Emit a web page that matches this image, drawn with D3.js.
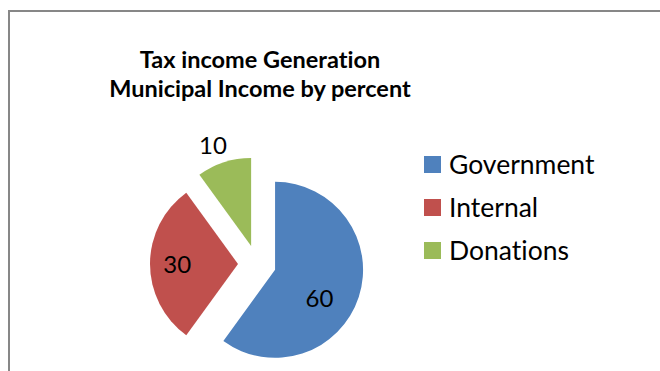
<!DOCTYPE html>
<html>
<head>
<meta charset="utf-8">
<script src="https://cdn.jsdelivr.net/npm/d3@7"></script>
<style>
  body { margin: 0; background: #fff; }
  svg { display: block; font-family: Lato, "Open Sans", sans-serif; font-variant-ligatures: none; }
</style>
</head>
<body>
<div id="chart"></div>
<script>
// data
var categories = ["Government", "Internal", "Donations"];
var values = [60, 30, 10];
var colors = ["#4F81BD", "#C0504D", "#9BBB59"];
var titleLines = ["Tax income Generation", "Municipal Income by percent"];

var W = 660, H = 371;
var svg = d3.select("#chart").append("svg")
    .attr("width", W)
    .attr("height", H);

// chart frame (runs off the right and bottom of the picture)
svg.append("path")
    .attr("d", "M9," + H + " V11 H" + W)
    .attr("fill", "none")
    .attr("stroke", "#878787")
    .attr("stroke-width", 2);

// title
svg.selectAll(".title")
    .data(titleLines)
    .enter()
    .append("text")
    .attr("class", "title")
    .attr("x", 260)
    .attr("y", function(d, i) { return 68 + i * 29; })
    .attr("text-anchor", "middle")
    .style("font-weight", "bold")
    .style("font-size", "23.5px")
    .text(function(d) { return d; });

/*********************
 * PIE
 *********************/
var cx = 257, cy = 264, r = 88, explode = 19;

var pie = d3.pie().sort(null).value(function(d) { return d; });
var arc = d3.arc().innerRadius(0).outerRadius(r);
var slices = pie(values);

function midDir(d) {
    var a = (d.startAngle + d.endAngle) / 2;
    return [Math.sin(a), -Math.cos(a)];
}

var g = svg.append("g").attr("transform", "translate(" + cx + "," + cy + ")");

g.selectAll(".slice")
    .data(slices)
    .enter()
    .append("path")
    .attr("class", "slice")
    .attr("d", arc)
    .attr("transform", function(d) {
        var m = midDir(d);
        return "translate(" + (m[0] * explode) + "," + (m[1] * explode) + ")";
    })
    .style("fill", function(d, i) { return colors[i]; });

// label placement (best fit: small slices outside)
var labelPlace = { "Government": [0.6, 0.26], "Internal": [0.69, 0], "Donations": [1.22, -0.05] };

g.selectAll(".lbl")
    .data(slices)
    .enter()
    .append("text")
    .attr("class", "lbl")
    .attr("transform", function(d, i) {
        var p = labelPlace[categories[i]];
        var m = midDir(d);
        var a = (d.startAngle + d.endAngle) / 2 + p[1];
        var lr = r * p[0];
        var x = m[0] * explode + Math.sin(a) * lr;
        var y = m[1] * explode - Math.cos(a) * lr;
        return "translate(" + x + "," + y + ")";
    })
    .attr("text-anchor", "middle")
    .attr("dy", "0.36em")
    .style("font-size", "24px")
    .text(function(d) { return d.value; });

/*********************
 * LEGEND
 *********************/
var legend = svg.selectAll(".leg")
    .data(categories)
    .enter()
    .append("g")
    .attr("class", "leg")
    .attr("transform", function(d, i) { return "translate(424," + (164.5 + i * 43) + ")"; });

legend.append("rect")
    .attr("x", 0)
    .attr("y", -8.5)
    .attr("width", 17)
    .attr("height", 17)
    .style("fill", function(d, i) { return colors[i]; });

legend.append("text")
    .attr("x", 25)
    .attr("dy", "0.36em")
    .style("font-size", "26.5px")
    .text(function(d) { return d; });
</script>
</body>
</html>
